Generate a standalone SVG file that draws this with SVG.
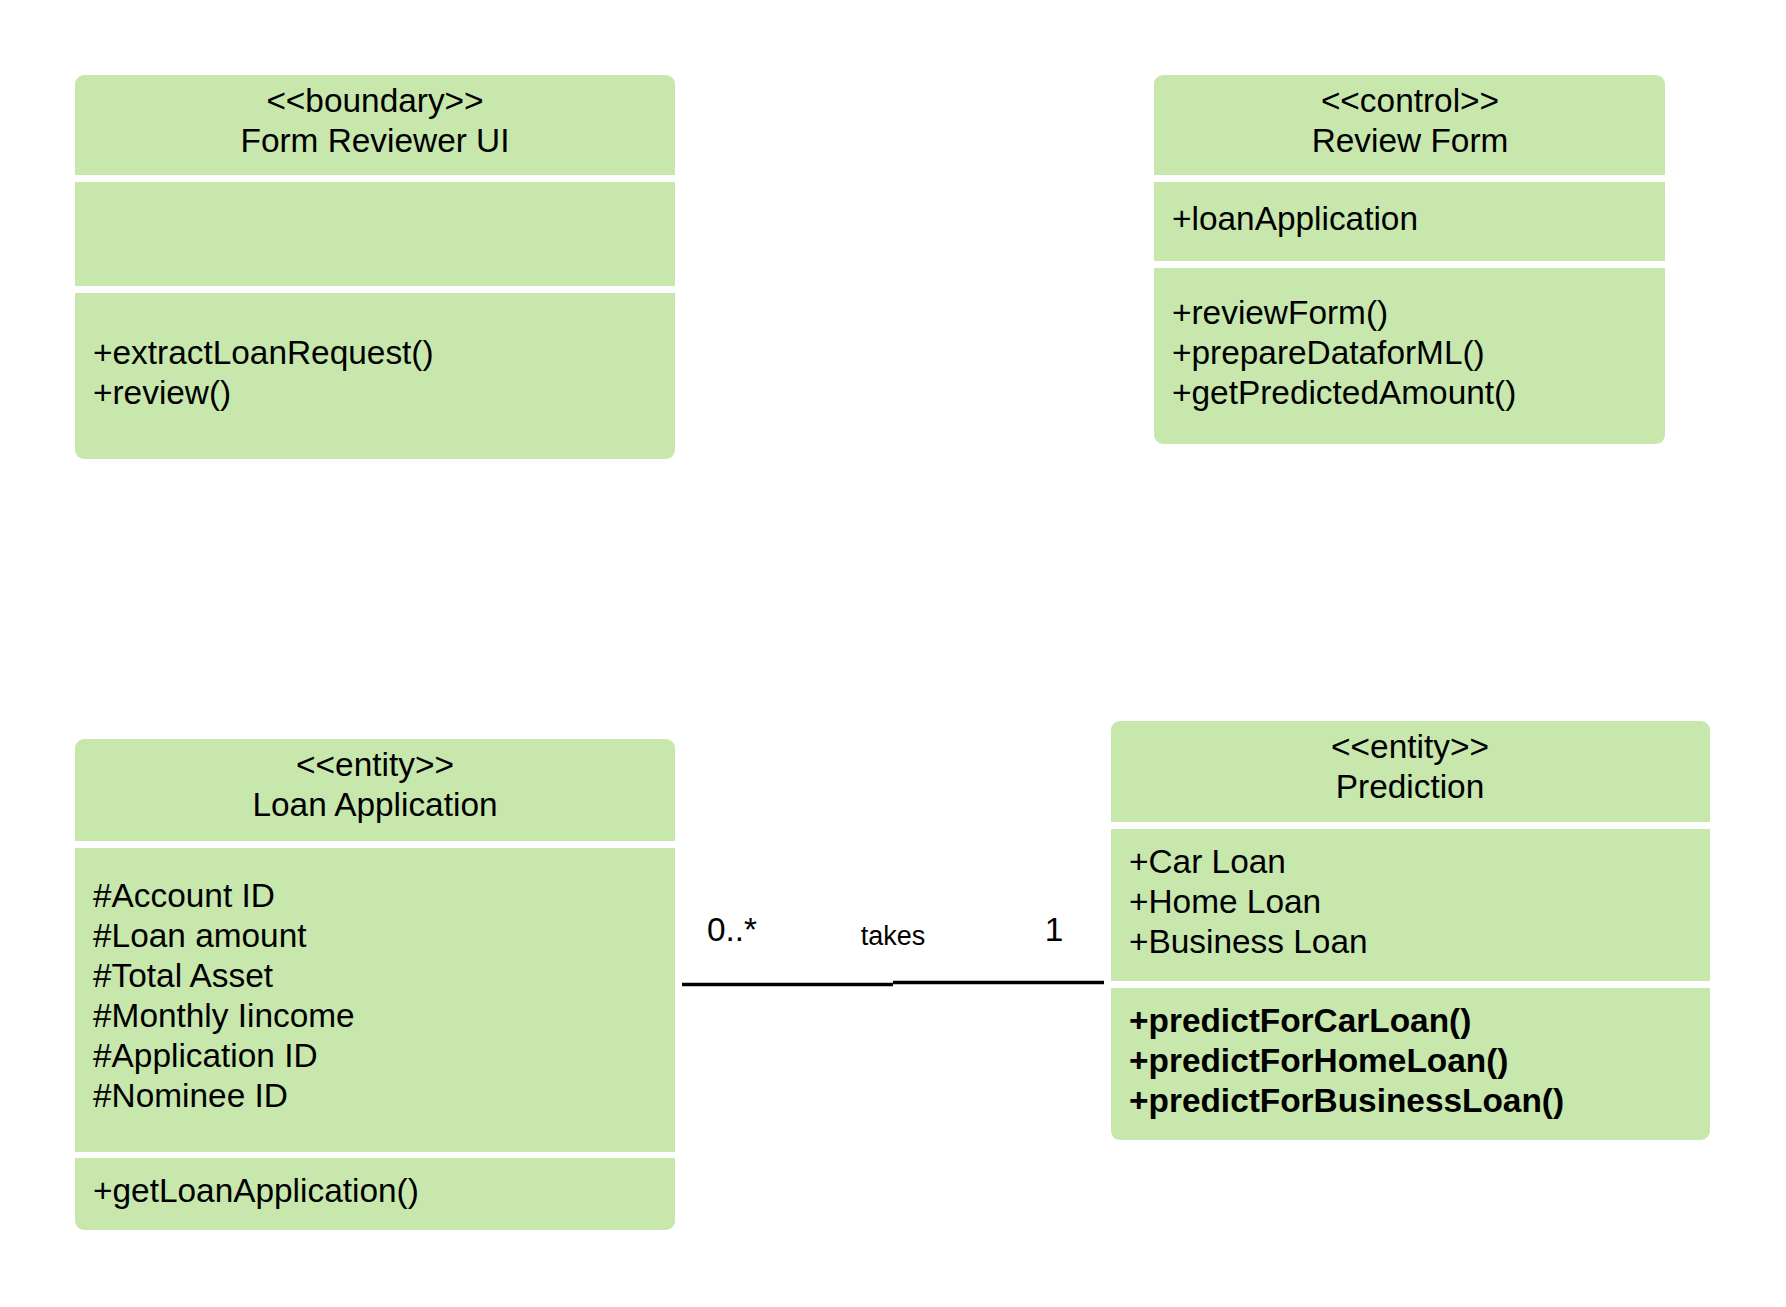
<svg xmlns="http://www.w3.org/2000/svg" width="1786" height="1307" viewBox="0 0 1786 1307">
  <style>
    .sec { fill: #c7e7ad; }
    text { font-family: "Liberation Sans", Arial, sans-serif; font-size: 33.4px; fill: #000; }
    .c { text-anchor: middle; }
    .b { font-weight: bold; }
    .lbl { font-size: 27px; }
    .edge { stroke: #000; stroke-width: 3.5; fill: none; }
  </style>
  <rect x="0" y="0" width="1786" height="1307" fill="#fff"/>

  <!-- boundary class -->
  <g id="form-reviewer-ui">
    <path class="sec" d="M75,175 V84 A9 9 0 0 1 84,75 H666 A9 9 0 0 1 675,84 V175 Z"/>
    <rect class="sec" x="75" y="182" width="600" height="104"/>
    <path class="sec" d="M75,293 H675 V450 A9 9 0 0 1 666,459 H84 A9 9 0 0 1 75,450 Z"/>
    <text class="c" x="375" y="112">&lt;&lt;boundary&gt;&gt;</text>
    <text class="c" x="375" y="152">Form Reviewer UI</text>
    <text x="93" y="364">+extractLoanRequest()</text>
    <text x="93" y="404">+review()</text>
  </g>

  <!-- control class -->
  <g id="review-form">
    <path class="sec" d="M1154,175 V84 A9 9 0 0 1 1163,75 H1656 A9 9 0 0 1 1665,84 V175 Z"/>
    <rect class="sec" x="1154" y="182" width="511" height="79"/>
    <path class="sec" d="M1154,268 H1665 V435 A9 9 0 0 1 1656,444 H1163 A9 9 0 0 1 1154,435 Z"/>
    <text class="c" x="1410" y="112">&lt;&lt;control&gt;&gt;</text>
    <text class="c" x="1410" y="152">Review Form</text>
    <text x="1172" y="230">+loanApplication</text>
    <text x="1172" y="324">+reviewForm()</text>
    <text x="1172" y="364">+prepareDataforML()</text>
    <text x="1172" y="404">+getPredictedAmount()</text>
  </g>

  <!-- entity: loan application -->
  <g id="loan-application">
    <path class="sec" d="M75,841 V748 A9 9 0 0 1 84,739 H666 A9 9 0 0 1 675,748 V841 Z"/>
    <rect class="sec" x="75" y="848" width="600" height="304"/>
    <path class="sec" d="M75,1158 H675 V1221 A9 9 0 0 1 666,1230 H84 A9 9 0 0 1 75,1221 Z"/>
    <text class="c" x="375" y="776">&lt;&lt;entity&gt;&gt;</text>
    <text class="c" x="375" y="816">Loan Application</text>
    <text x="93" y="907">#Account ID</text>
    <text x="93" y="947">#Loan amount</text>
    <text x="93" y="987">#Total Asset</text>
    <text x="93" y="1027">#Monthly Iincome</text>
    <text x="93" y="1067">#Application ID</text>
    <text x="93" y="1107">#Nominee ID</text>
    <text x="93" y="1202">+getLoanApplication()</text>
  </g>

  <!-- entity: prediction -->
  <g id="prediction">
    <path class="sec" d="M1111,822 V730 A9 9 0 0 1 1120,721 H1701 A9 9 0 0 1 1710,730 V822 Z"/>
    <rect class="sec" x="1111" y="829" width="599" height="152"/>
    <path class="sec" d="M1111,988 H1710 V1131 A9 9 0 0 1 1701,1140 H1120 A9 9 0 0 1 1111,1131 Z"/>
    <text class="c" x="1410" y="758">&lt;&lt;entity&gt;&gt;</text>
    <text class="c" x="1410" y="798">Prediction</text>
    <text x="1129" y="873">+Car Loan</text>
    <text x="1129" y="913">+Home Loan</text>
    <text x="1129" y="953">+Business Loan</text>
    <text class="b" x="1129" y="1032">+predictForCarLoan()</text>
    <text class="b" x="1129" y="1072">+predictForHomeLoan()</text>
    <text class="b" x="1129" y="1112">+predictForBusinessLoan()</text>
  </g>

  <!-- association: Loan Application takes Prediction -->
  <g id="connectors">
    <path class="edge" d="M682,984.5 H893"/>
    <path class="edge" d="M893,982.5 H1104"/>
    <text x="707" y="941">0..*</text>
    <text class="c lbl" x="893" y="945">takes</text>
    <text class="c" x="1054" y="941">1</text>
  </g>
</svg>
